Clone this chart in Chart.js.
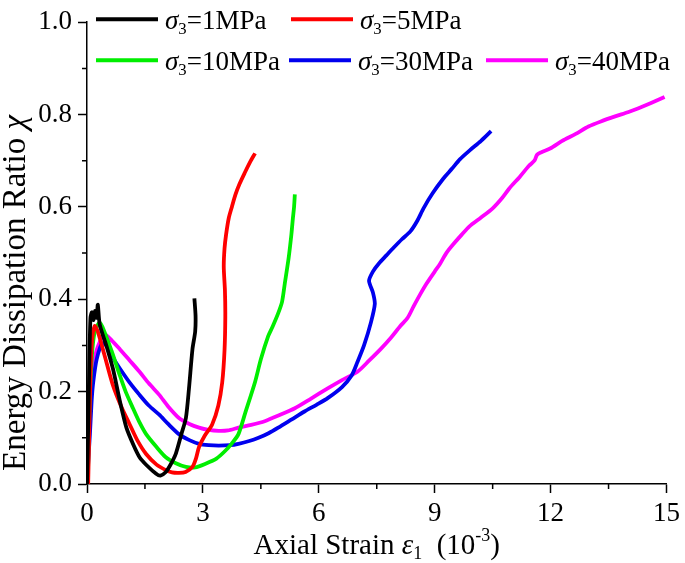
<!DOCTYPE html>
<html lang="en">
<head>
<meta charset="UTF-8">
<title>Energy Dissipation Ratio vs Axial Strain</title>
<script src="https://cdn.jsdelivr.net/npm/chart.js@4"></script>
<style>
    html, body {
        margin: 0;
        padding: 0;
        background: #fff;
    }
    canvas {
        display: block;
    }
</style>
</head>
<body>
<canvas id="chart" width="685" height="563"></canvas>
<script>
    // confining pressures (MPa) and line colours
    const pressures = ['1', '5', '10', '30', '40'];
    const colors = ['#000000', '#ff0000', '#00ee00', '#0000ee', '#ff00ff'];

    // axial strain (10^-3) and energy dissipation ratio, one pair per curve
    const strain1 = [0, 0.03, 0.06, 0.09, 0.13, 0.17, 0.21, 0.25, 0.28, 0.33, 0.5, 0.67, 0.85, 1.02, 1.2, 1.36, 1.55, 1.79, 1.9, 2.04, 2.15, 2.3, 2.45, 2.56, 2.64, 2.73, 2.8, 2.81, 2.78];
    const ratio1 = [0, 0.12, 0.26, 0.36, 0.372, 0.355, 0.375, 0.36, 0.388, 0.345, 0.3, 0.25, 0.18, 0.122, 0.085, 0.058, 0.04, 0.022, 0.018, 0.026, 0.04, 0.066, 0.11, 0.143, 0.207, 0.292, 0.33, 0.364, 0.402];

    const strain5 = [0.03, 0.06, 0.09, 0.13, 0.2, 0.28, 0.45, 0.67, 0.9, 1.1, 1.3, 1.53, 1.8, 2.04, 2.2, 2.38, 2.55, 2.73, 2.82, 2.9, 3.05, 3.24, 3.4, 3.5, 3.56, 3.58, 3.57, 3.54, 3.56, 3.6, 3.67, 3.75, 3.84, 3.95, 4.09, 4.22, 4.35];
    const ratio5 = [0, 0.12, 0.24, 0.31, 0.342, 0.33, 0.28, 0.214, 0.165, 0.13, 0.095, 0.065, 0.042, 0.03, 0.025, 0.024, 0.026, 0.037, 0.055, 0.08, 0.105, 0.129, 0.17, 0.22, 0.29, 0.363, 0.42, 0.47, 0.51, 0.54, 0.576, 0.6, 0.626, 0.65, 0.675, 0.697, 0.716];

    const strain10 = [0.02, 0.06, 0.12, 0.2, 0.33, 0.45, 0.65, 0.85, 1.0, 1.19, 1.35, 1.53, 1.8, 2.04, 2.3, 2.56, 2.8, 3.07, 3.35, 3.58, 3.75, 3.92, 4.1, 4.35, 4.5, 4.69, 4.8, 4.95, 5.05, 5.12, 5.22, 5.29, 5.33, 5.36, 5.38];
    const ratio10 = [0, 0.15, 0.27, 0.33, 0.35, 0.33, 0.285, 0.235, 0.2, 0.164, 0.135, 0.108, 0.08, 0.058, 0.045, 0.037, 0.036, 0.044, 0.055, 0.072, 0.088, 0.108, 0.155, 0.221, 0.27, 0.32, 0.34, 0.37, 0.395, 0.434, 0.49, 0.54, 0.576, 0.6, 0.627];

    const strain30 = [0, 0.04, 0.08, 0.12, 0.16, 0.25, 0.4, 0.55, 0.7, 0.85, 1.1, 1.36, 1.6, 1.87, 2.1, 2.38, 2.65, 2.9, 3.15, 3.41, 3.7, 3.92, 4.2, 4.44, 4.7, 4.95, 5.3, 5.63, 5.95, 6.23, 6.6, 6.85, 7.0, 7.17, 7.35, 7.45, 7.4, 7.3, 7.4, 7.55, 7.75, 7.94, 8.15, 8.37, 8.55, 8.71, 8.95, 9.22, 9.45, 9.65, 9.9, 10.2, 10.46];
    const ratio30 = [0, 0.06, 0.115, 0.18, 0.22, 0.27, 0.305, 0.295, 0.27, 0.25, 0.22, 0.193, 0.17, 0.15, 0.13, 0.108, 0.095, 0.087, 0.084, 0.083, 0.084, 0.087, 0.093, 0.1, 0.11, 0.122, 0.14, 0.157, 0.172, 0.186, 0.21, 0.235, 0.264, 0.3, 0.35, 0.39, 0.415, 0.44, 0.46, 0.477, 0.495, 0.512, 0.53, 0.547, 0.57, 0.597, 0.63, 0.661, 0.683, 0.703, 0.722, 0.743, 0.764];

    const strain40 = [0, 0.04, 0.08, 0.15, 0.25, 0.45, 0.65, 0.85, 1.1, 1.36, 1.6, 1.87, 2.1, 2.38, 2.65, 2.9, 3.15, 3.41, 3.65, 3.92, 4.25, 4.6, 5.0, 5.38, 5.8, 6.23, 6.6, 7.0, 7.3, 7.6, 7.85, 8.11, 8.3, 8.45, 8.62, 8.79, 9.0, 9.14, 9.3, 9.48, 9.7, 9.9, 10.2, 10.5, 10.75, 10.93, 11.2, 11.44, 11.58, 11.65, 11.75, 12.0, 12.3, 12.65, 12.98, 13.3, 13.67, 14.0, 14.26, 14.6, 14.95];
    const ratio40 = [0, 0.08, 0.16, 0.24, 0.29, 0.324, 0.31, 0.292, 0.268, 0.243, 0.218, 0.193, 0.168, 0.143, 0.13, 0.122, 0.117, 0.115, 0.116, 0.122, 0.128, 0.136, 0.15, 0.164, 0.185, 0.207, 0.225, 0.243, 0.267, 0.292, 0.315, 0.342, 0.36, 0.384, 0.41, 0.434, 0.46, 0.477, 0.5, 0.519, 0.54, 0.558, 0.577, 0.597, 0.62, 0.64, 0.665, 0.689, 0.7, 0.713, 0.718, 0.727, 0.743, 0.758, 0.774, 0.785, 0.796, 0.805, 0.813, 0.825, 0.838];

    const xTicks = [0, 3, 6, 9, 12, 15];
    const yTicks = [0, 0.2, 0.4, 0.6, 0.8, 1.0];
    const xMinor = [1.5, 4.5, 7.5, 10.5, 13.5];
    const yMinor = [0.1, 0.3, 0.5, 0.7, 0.9];

    const FONT = "'Liberation Serif', 'Times New Roman', serif";

    const strains = [strain1, strain5, strain10, strain30, strain40];
    const ratios = [ratio1, ratio5, ratio10, ratio30, ratio40];

    const datasets = pressures.map((p, i) => ({
        label: 'σ3=' + p + 'MPa',
        data: strains[i].map((x, j) => ({ x: x, y: ratios[i][j] })),
        borderColor: colors[i],
        backgroundColor: colors[i],
        borderWidth: 3.8,
        pointRadius: 0,
        tension: 0.25,
        fill: false
    }));

    // write a run of text pieces (normal / italic / sub / sup) starting at x
    function drawPieces(ctx, pieces, x, y, size) {
        pieces.forEach(p => {
            const s = p.sub || p.sup ? size * 0.62 : size;
            ctx.font = (p.italic ? 'italic ' : '') + s + 'px ' + FONT;
            let dy = 0;
            if (p.sub) dy = size * 0.28;
            if (p.sup) dy = -size * 0.32;
            ctx.fillText(p.t, x, y + dy);
            x += ctx.measureText(p.t).width;
        });
        return x;
    }

    function piecesWidth(ctx, pieces, size) {
        let w = 0;
        pieces.forEach(p => {
            const s = p.sub || p.sup ? size * 0.62 : size;
            ctx.font = (p.italic ? 'italic ' : '') + s + 'px ' + FONT;
            w += ctx.measureText(p.t).width;
        });
        return w;
    }

    const decorPlugin = {
        id: 'decor',
        afterDraw(chart) {
            const ctx = chart.ctx;
            const area = chart.chartArea;
            const xs = chart.scales.x;
            const ys = chart.scales.y;
            ctx.save();

            // minor ticks, outward
            ctx.strokeStyle = '#000';
            ctx.lineWidth = 1.5;
            ctx.beginPath();
            xMinor.forEach(v => {
                const px = xs.getPixelForValue(v);
                ctx.moveTo(px, area.bottom);
                ctx.lineTo(px, area.bottom + 5);
            });
            yMinor.forEach(v => {
                const py = ys.getPixelForValue(v);
                ctx.moveTo(area.left, py);
                ctx.lineTo(area.left - 5, py);
            });
            ctx.stroke();

            ctx.fillStyle = '#000';
            ctx.textBaseline = 'middle';
            ctx.textAlign = 'left';

            // x axis title
            const xTitle = [
                { t: 'Axial Strain ' },
                { t: 'ε', italic: true },
                { t: '1', sub: true },
                { t: '  (10' },
                { t: '-3', sup: true },
                { t: ')' }
            ];
            const xw = piecesWidth(ctx, xTitle, 29);
            drawPieces(ctx, xTitle, (area.left + area.right) / 2 - xw / 2, 546, 29);

            // y axis title
            const yTitle = [
                { t: 'Energy Dissipation Ratio ' },
                { t: 'χ', italic: true }
            ];
            const yw = piecesWidth(ctx, yTitle, 33);
            ctx.save();
            ctx.translate(16, 293);
            ctx.rotate(-Math.PI / 2);
            drawPieces(ctx, yTitle, -yw / 2, 0, 33);
            ctx.restore();

            // legend, two rows inside the plot
            const rows = [
                [{ i: 0, x: 9 }, { i: 1, x: 204 }],
                [{ i: 2, x: 9 }, { i: 3, x: 202 }, { i: 4, x: 399 }]
            ];
            const rowY = [area.top - 3, area.top + 38];
            rows.forEach((row, r) => {
                row.forEach(item => {
                    const lx = area.left + item.x;
                    const ly = rowY[r];
                    ctx.strokeStyle = colors[item.i];
                    ctx.lineWidth = 4;
                    ctx.beginPath();
                    ctx.moveTo(lx, ly);
                    ctx.lineTo(lx + 62, ly);
                    ctx.stroke();
                    drawPieces(ctx, [
                        { t: 'σ', italic: true },
                        { t: '3', sub: true },
                        { t: '=' + pressures[item.i] + 'MPa' }
                    ], lx + 69, ly + 3, 27);
                });
            });
            ctx.restore();
        }
    };

    new Chart(document.getElementById('chart'), {
        type: 'line',
        data: { datasets: datasets },
        options: {
            responsive: false,
            animation: false,
            layout: { padding: { top: 14, right: 14, left: 0, bottom: 0 } },
            plugins: {
                legend: { display: false },
                tooltip: { enabled: false }
            },
            scales: {
                x: {
                    type: 'linear',
                    min: 0,
                    max: 15,
                    afterBuildTicks: s => { s.ticks = xTicks.map(v => ({ value: v })); },
                    ticks: {
                        color: '#000',
                        font: { family: FONT, size: 27 },
                        padding: 5,
                        maxRotation: 0,
                        callback: v => String(v)
                    },
                    grid: { drawOnChartArea: false, drawTicks: true, tickLength: 9, tickColor: '#000', tickWidth: 1.5 },
                    border: { color: '#000', width: 1.5 },
                    afterFit: s => { s.height = 79; }
                },
                y: {
                    min: 0,
                    max: 1,
                    afterBuildTicks: s => { s.ticks = yTicks.map(v => ({ value: v })); },
                    ticks: {
                        color: '#000',
                        font: { family: FONT, size: 27 },
                        padding: 6,
                        callback: v => Number(v).toFixed(1)
                    },
                    grid: { drawOnChartArea: false, drawTicks: true, tickLength: 9, tickColor: '#000', tickWidth: 1.5 },
                    border: { color: '#000', width: 1.5 },
                    afterFit: s => { s.width = 87; }
                }
            }
        },
        plugins: [decorPlugin]
    });
</script>
</body>
</html>
